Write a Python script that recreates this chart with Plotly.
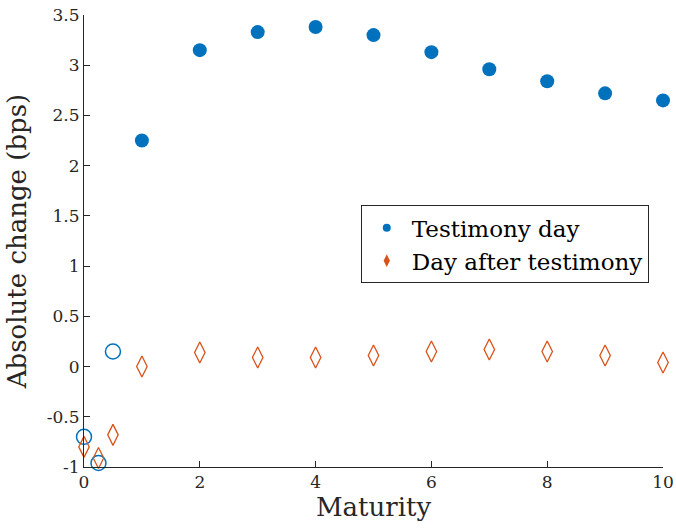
import plotly.graph_objects as go

# Maturities (years) and responses in basis points
maturity = [0, 0.25, 0.5, 1, 2, 3, 4, 5, 6, 7, 8, 9, 10]
testimony_day = [-0.70, -0.96, 0.15, 2.25, 3.15, 3.33, 3.38, 3.30, 3.13, 2.96, 2.84, 2.72, 2.65]
day_after = [-0.80, -0.91, -0.68, 0.00, 0.14, 0.09, 0.09, 0.11, 0.15, 0.17, 0.15, 0.11, 0.04]
# Whether each testimony-day estimate is drawn filled
testimony_filled = [False, False, False, True, True, True, True, True, True, True, True, True, True]

x_ticks = [0, 2, 4, 6, 8, 10]
y_ticks = [-1, -0.5, 0, 0.5, 1, 1.5, 2, 2.5, 3, 3.5]
y_tick_text = ["-1", "-0.5", "0", "0.5", "1", "1.5", "2", "2.5", "3", "3.5"]

BLUE = "#0072BD"
ORANGE = "#D95319"
FONT = "DejaVu Serif"

fig = go.Figure()

open_x = [m for m, f in zip(maturity, testimony_filled) if not f]
open_y = [v for v, f in zip(testimony_day, testimony_filled) if not f]
fill_x = [m for m, f in zip(maturity, testimony_filled) if f]
fill_y = [v for v, f in zip(testimony_day, testimony_filled) if f]

fig.add_trace(go.Scatter(
    x=open_x, y=open_y, mode="markers", showlegend=False, cliponaxis=False,
    marker=dict(symbol="circle-open", size=15, color=BLUE, line=dict(width=1.5)),
))
fig.add_trace(go.Scatter(
    x=fill_x, y=fill_y, mode="markers", showlegend=False, cliponaxis=False,
    marker=dict(symbol="circle", size=14, color=BLUE),
))
fig.add_trace(go.Scatter(
    x=maturity, y=day_after, mode="markers", showlegend=False, cliponaxis=False,
    marker=dict(symbol="diamond-tall-open", size=15, color=ORANGE, line=dict(width=1.3)),
))

# Legend entries
fig.add_trace(go.Scatter(
    x=[None], y=[None], mode="markers", name="Testimony day",
    marker=dict(symbol="circle", size=8, color=BLUE),
))
fig.add_trace(go.Scatter(
    x=[None], y=[None], mode="markers", name="Day after testimony",
    marker=dict(symbol="diamond-tall", size=9, color=ORANGE),
))

axis_common = dict(
    showgrid=False, zeroline=False, showline=True, linecolor="#262626", linewidth=1,
    ticks="inside", ticklen=6, tickcolor="#262626", mirror=False, automargin=False,
    tickfont=dict(family=FONT, size=17, color="#262626"),
)

fig.update_layout(
    width=676, height=529,
    margin=dict(l=84, r=13, t=15, b=62),
    paper_bgcolor="white", plot_bgcolor="white",
    font=dict(family=FONT, color="#262626"),
    xaxis=dict(range=[0, 10], tickvals=x_ticks,
               title=dict(text="Maturity", font=dict(family=FONT, size=26, color="#262626"), standoff=6),
               **axis_common),
    yaxis=dict(range=[-1, 3.5], tickvals=y_ticks, ticktext=y_tick_text,
               title=dict(text="Absolute change (bps)", font=dict(family=FONT, size=26, color="#262626"), standoff=12),
               **axis_common),
    legend=dict(x=0.478, y=0.579, xanchor="left", yanchor="top",
                bgcolor="white", bordercolor="#262626", borderwidth=1,
                font=dict(family=FONT, size=23, color="#000000"),
                itemsizing="trace", itemwidth=40, tracegroupgap=0),
)

fig.write_html("out.html")
